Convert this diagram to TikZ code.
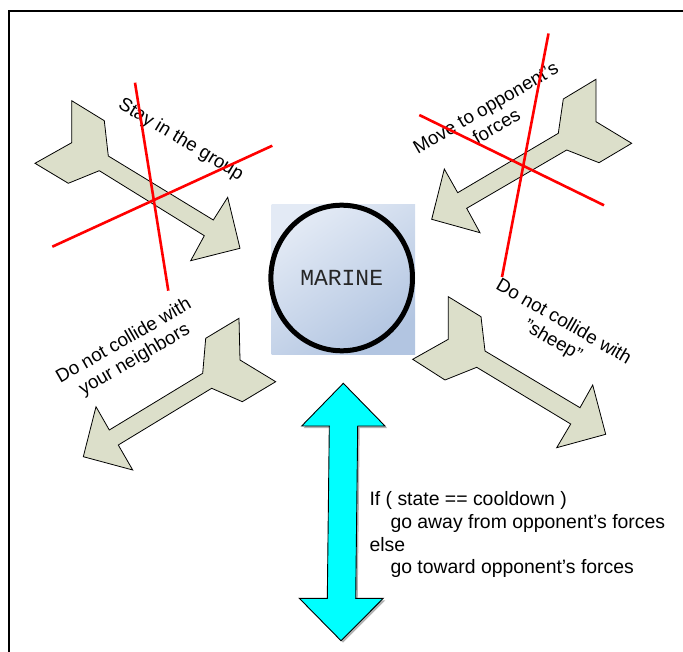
\documentclass[tikz,border=0pt]{standalone}
\usepackage{fontspec}
\setmainfont{Liberation Sans}
\newfontfamily\marinefont{Liberation Mono}
\definecolor{arrowfill}{HTML}{DCDFCA}
\definecolor{boxlight}{HTML}{E3EAF5}
\definecolor{boxdark}{HTML}{B2C5E1}
\definecolor{aqua}{HTML}{00FFFF}
\begin{document}
\begin{tikzpicture}[x=1pt,y=-1pt,
  blockarrow/.style={draw=black, line width=0.8pt, fill=arrowfill, line join=miter},
  cyanarrow/.style={draw=black, line width=0.9pt, fill=aqua, line join=miter},
  crossline/.style={draw=red, line width=2.6pt},
  difflabel/.style={font=\fontsize{18.8}{21.5}\selectfont, align=center, inner sep=0pt},
  codelabel/.style={font=\fontsize{19.4}{22.7}\selectfont, align=left, inner sep=0pt, anchor=north west}]
\useasboundingbox (0,0) rectangle (683,652);
% frame
\draw[line width=2pt] (683,11) -- (8.7,11) -- (8.7,652);

% centre box and circle
\shade[top color=boxlight, bottom color=boxdark, shading angle=35] (271.7,205) rectangle (415,354.3);
\draw[line width=5pt] (341.7,278) ellipse [x radius=70.8, y radius=72.8];
\node[font=\marinefont\fontsize{23}{23}\selectfont, text=black!85, inner sep=0pt] (marine) at (341.7,278.3) {MARINE};

% top-left arrow
\draw[blockarrow] (71.7,100.7) -- (104.3,120.7) -- (108.3,156) -- (213.3,220) -- (227.7,197.3)
  -- (240,248.3) -- (190.7,260.7) -- (204.3,235.7) -- (99.3,170.7) -- (68.3,183.3)
  -- (35,163.3) -- (71.7,142.7) -- cycle;
% top-right arrow
\draw[blockarrow] (596,79.3) -- (596,121.7) -- (631.7,143.3) -- (599,162.7) -- (566.7,150)
  -- (466.7,208.3) -- (480,232.7) -- (431.7,219.3) -- (444.3,169) -- (457.7,192.7)
  -- (558.3,133.3) -- (563.3,99) -- cycle;
% bottom-left arrow
\draw[blockarrow] (239,318.3) -- (240,360) -- (275.7,381.7) -- (242.3,401.7) -- (211.7,388.3)
  -- (118.3,445) -- (132.7,470) -- (83.3,456.7) -- (96,406.7) -- (109.3,430)
  -- (202.7,373.3) -- (205.7,338.3) -- cycle;
% bottom-right arrow
\draw[blockarrow] (448.3,296.7) -- (481,316.7) -- (485,351) -- (580,407.7) -- (592.7,385)
  -- (605.7,434.3) -- (556.7,447.7) -- (570.7,424) -- (476.7,367.3) -- (445,380)
  -- (412.7,359.3) -- (448.3,339.3) -- cycle;

% cyan double arrow (with faint shadow)
\fill[black!30] (345.3,385.3) -- (387,428) -- (359.7,428) -- (357.7,600.3) -- (385.3,600.3)
  -- (343,642.7) -- (301.3,600.3) -- (329.3,600.3) -- (331.3,428) -- (303.7,428) -- cycle;
\draw[cyanarrow] (343.3,383.3) -- (385,426) -- (357.7,426) -- (355.7,598.3) -- (383.3,598.3)
  -- (341,640.7) -- (299.3,598.3) -- (327.3,598.3) -- (329.3,426) -- (301.7,426) -- cycle;

% labels
\node[difflabel, rotate=-31] (stay) at (180.7,140) {Stay in the group};
\node[difflabel, rotate=30] (move) at (491,117) {Move to opponent’s\\forces};
\node[difflabel, rotate=30] (neigh) at (129.3,350.7) {Do not collide with\\your neighbors};
\node[difflabel, rotate=-30] (sheep) at (558,331.7) {Do not collide with\\”sheep”};

% red crossing lines
\draw[crossline] (135,82.7) -- (168.3,290.7);
\draw[crossline] (52.3,246.7) -- (272.3,145.7);
\draw[crossline] (548.5,33.5) -- (502,277);
\draw[crossline] (419.3,115) -- (604,205.3);

% rule text
\node[codelabel] (rule) at (369.3,491.5) {If ( state == cooldown )\\\hspace*{21pt}go away from opponent’s forces\\else\\\hspace*{21pt}go toward opponent’s forces};
\end{tikzpicture}
\end{document}
